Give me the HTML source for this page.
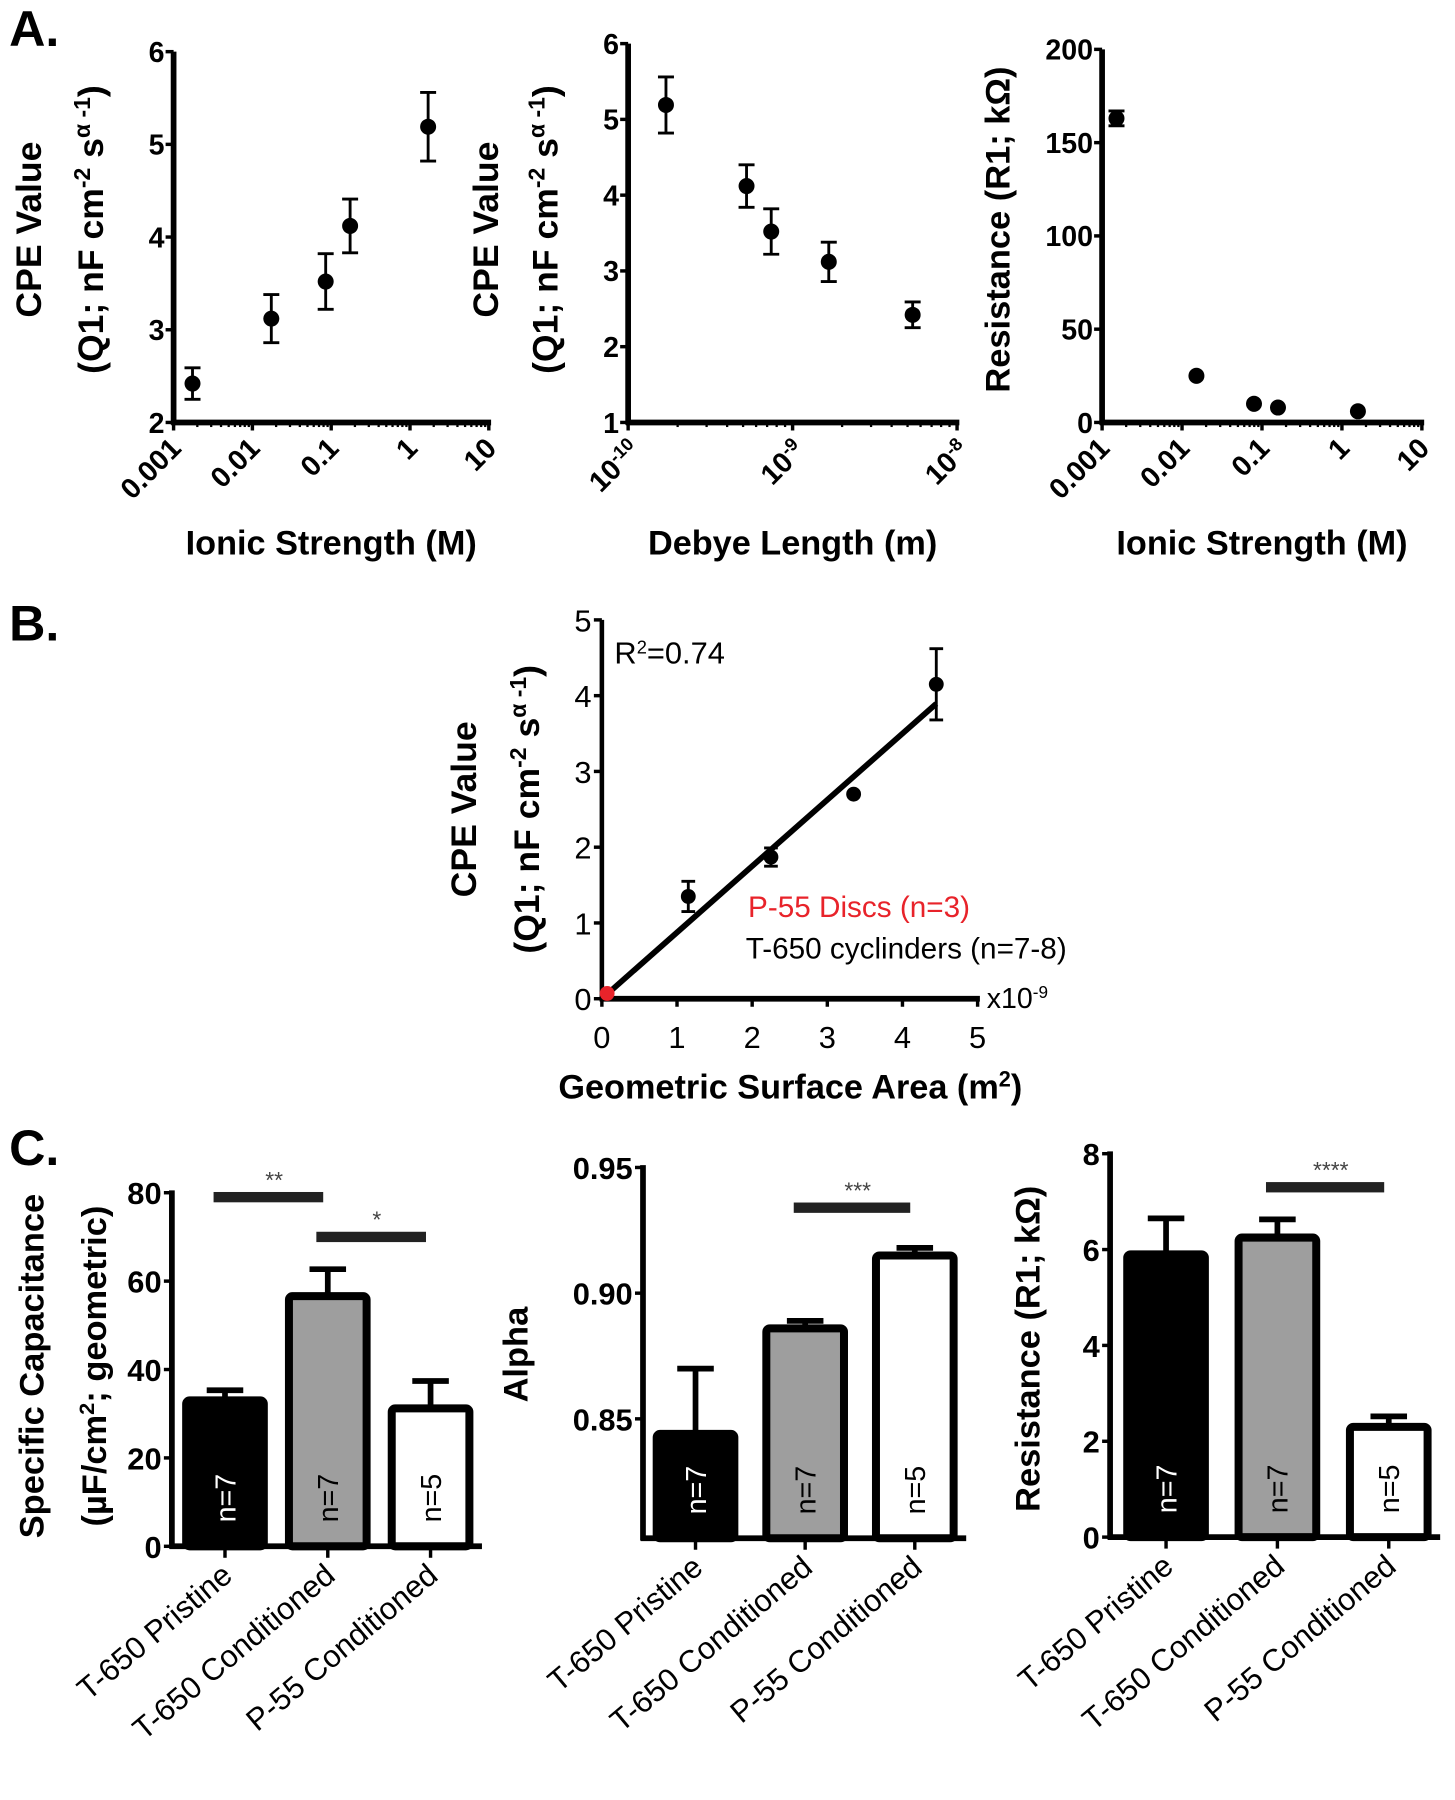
<!DOCTYPE html>
<html><head><meta charset="utf-8">
<style>
html,body{margin:0;padding:0;background:#fff;}
svg{display:block;}
text{font-family:"Liberation Sans",Arial,sans-serif;}
</style></head>
<body>
<svg id="fig" width="1455" height="1800" viewBox="0 0 1274 1568" preserveAspectRatio="none" xmlns="http://www.w3.org/2000/svg"></svg>
<script>
// ---------- DATA ----------
const a1LogX = [-2.76, -1.76, -1.07, -0.76, 0.23];
const a1Y = [2.42, 3.12, 3.52, 4.12, 5.19];
const a1Err = [0.17, 0.26, 0.30, 0.29, 0.37];
const a1TickLabels = ["0.001", "0.01", "0.1", "1", "10"];
const a1YTicks = [2, 3, 4, 5, 6];
const a2LogX = [-9.77, -9.28, -9.13, -8.78, -8.27];
const a2Y = [5.19, 4.12, 3.52, 3.12, 2.42];
const a2Err = [0.37, 0.28, 0.30, 0.26, 0.17];
const a2TickExp = ["-10", "-9", "-8"];
const a2YTicks = [1, 2, 3, 4, 5, 6];
const a3LogX = [-2.82, -1.82, -1.1, -0.8, 0.2];
const a3Y = [163, 25, 10, 8, 6];
const a3Err = [4, 0, 0, 0, 0];
const a3YTicks = [0, 50, 100, 150, 200];
const bX = [1.15, 2.25, 3.35, 4.45];
const bY = [1.35, 1.87, 2.7, 4.15];
const bErr = [0.2, 0.12, 0, 0.47];
const bRedX = [0.07];
const bRedY = [0.07];
const bFit = [0, 0.875];
const bTicks = [0, 1, 2, 3, 4, 5];
const cCats = ["T-650 Pristine", "T-650 Conditioned", "P-55 Conditioned"];
const cN = ["n=7", "n=7", "n=5"];
const c1Vals = [33, 56.6, 31.2];
const c1Errs = [2.3, 6.1, 6.2];
const c1YTicks = [0, 20, 40, 60, 80];
const c2Vals = [0.844, 0.886, 0.915];
const c2Errs = [0.026, 0.003, 0.003];
const c2YTicks = ["0.85", "0.90", "0.95"];
const c3Vals = [5.9, 6.25, 2.3];
const c3Errs = [0.75, 0.38, 0.22];
const c3YTicks = [0, 2, 4, 6, 8];
const cFills = ["#000", "#9e9e9e", "#fff"];

const NS = "http://www.w3.org/2000/svg";
const svg = document.getElementById("fig");
function mk(tag, attrs, parent) {
  const e = document.createElementNS(NS, tag);
  for (const k in attrs) e.setAttribute(k, attrs[k]);
  (parent || svg).appendChild(e);
  return e;
}
function txt(s, x, y, size, opts, parent) {
  opts = opts || {};
  const t = mk("text", {x: x, y: y, "font-size": size, "font-weight": opts.bold ? "bold" : "normal",
    "text-anchor": opts.anchor || "start", fill: opts.fill || "#000"}, parent);
  if (opts.rot !== undefined) t.setAttribute("transform", "rotate(" + opts.rot + " " + x + " " + y + ")");
  t.textContent = s;
  return t;
}
function line(x1, y1, x2, y2, w, parent) {
  return mk("line", {x1: x1, y1: y1, x2: x2, y2: y2, stroke: "#000", "stroke-width": w}, parent);
}

let t;
t = txt("A.", 8, 40, 44, {bold: true});


t = txt("B.", 8, 558, 44, {bold: true});


t = txt("C.", 8, 1015, 44, {bold: true});



function logScatter(cfg) {
  const g = mk("g", {});
  
  
  const xs = v => cfg.x0 + (v - cfg.lmin) * cfg.dec;
  const ys = v => cfg.yb - (v - cfg.ymin) / (cfg.ymax - cfg.ymin) * (cfg.yb - cfg.yt);
  const xEnd = xs(cfg.lmax);
  const ya = line(cfg.x0, cfg.yt, cfg.x0, cfg.yb + 2, 5, g);
  
  
  const xa = line(cfg.x0 - 2, cfg.yb, xEnd + 2, cfg.yb, 5, g);
  
  
  cfg.yTicks.forEach(v => {
    line(cfg.x0 - 7, ys(v), cfg.x0, ys(v), 3, g);
    const l = txt(String(v), cfg.x0 - 8, ys(v) + 9, 25, {bold: true, anchor: "end"}, g);
    
    
  });
  for (let d = cfg.lmin; d <= cfg.lmax; d++) {
    line(xs(d), cfg.yb, xs(d), cfg.yb + 7, 3, g);
    if (d < cfg.lmax) for (let k = 2; k < 10; k++) {
      const xx = xs(d + Math.log10(k));
      line(xx, cfg.yb, xx, cfg.yb + 4, 2, g);
    }
  }
  cfg.tickLabel(g, xs);
  cfg.lx.forEach((lx, i) => {
    const cx = xs(lx), cy = ys(cfg.yv[i]), e = cfg.err[i];
    if (e > 0) {
      const eb = mk("path", {d: "M" + cx + " " + ys(cfg.yv[i] + e) + "V" + ys(cfg.yv[i] - e) +
        "M" + (cx - 7) + " " + ys(cfg.yv[i] + e) + "h14M" + (cx - 7) + " " + ys(cfg.yv[i] - e) + "h14",
        stroke: "#000", "stroke-width": 2.5, fill: "none"}, g);
      
      
    }
    const p = mk("circle", {cx: cx, cy: cy, r: 7, fill: "#000"}, g);
    
    
  });
  const xt = txt(cfg.xTitle, (cfg.x0 + xEnd) / 2, 483, 30, {bold: true, anchor: "middle"}, g);
  
  
  cfg.yTitle(g);
}

function cpeTitle(g, x1, x2, yc) {
  const a = txt("CPE Value", x1, yc, 31, {bold: true, anchor: "middle", rot: -90}, g);
  
  
  const b = mk("text", {x: x2, y: yc, "font-size": 31, "font-weight": "bold", "text-anchor": "middle",
    transform: "rotate(-90 " + x2 + " " + yc + ")"}, g);
  
  
  b.innerHTML = '(Q1; nF cm<tspan baseline-shift="super" font-size="20">-2</tspan> s<tspan baseline-shift="super" font-size="20">α -1</tspan>)';
}

logScatter({name: "chart-cpe-vs-ionic-strength", x0: 152, lmin: -3, lmax: 1, dec: 69, yt: 45, yb: 368, ymin: 2, ymax: 6,
  yTicks: a1YTicks, lx: a1LogX, yv: a1Y, err: a1Err, xTitle: "Ionic Strength (M)",
  tickLabel: (g, xs) => a1TickLabels.forEach((s, i) => {
    const l = txt(s, xs(-3 + i) + 8, 392, 25, {bold: true, anchor: "end", rot: -45}, g);
    
    
  }),
  yTitle: g => cpeTitle(g, 36, 90, 200)});

logScatter({name: "chart-cpe-vs-debye-length", x0: 550, lmin: -10, lmax: -8, dec: 144, yt: 38, yb: 368, ymin: 1, ymax: 6,
  yTicks: a2YTicks, lx: a2LogX, yv: a2Y, err: a2Err, xTitle: "Debye Length (m)",
  tickLabel: (g, xs) => a2TickExp.forEach((s, i) => {
    const x = xs(-10 + i) + 12, y = 394;
    const l = mk("text", {x: x, y: y, "font-size": 25, "font-weight": "bold", "text-anchor": "end",
      transform: "rotate(-45 " + x + " " + y + ")"}, g);
    
    
    l.innerHTML = '10<tspan baseline-shift="super" font-size="16">' + s + '</tspan>';
  }),
  yTitle: g => cpeTitle(g, 436, 488, 200)});

logScatter({name: "chart-resistance-vs-ionic-strength", x0: 965, lmin: -3, lmax: 1, dec: 70, yt: 43, yb: 368, ymin: 0, ymax: 200,
  yTicks: a3YTicks, lx: a3LogX, yv: a3Y, err: a3Err, xTitle: "Ionic Strength (M)",
  tickLabel: (g, xs) => a1TickLabels.forEach((s, i) => {
    const l = txt(s, xs(-3 + i) + 8, 392, 25, {bold: true, anchor: "end", rot: -45}, g);
    
    
  }),
  yTitle: g => {
    const a = txt("Resistance (R1; kΩ)", 884, 200, 30, {bold: true, anchor: "middle", rot: -90}, g);
    
    
  }});

(function () {
  const g = mk("g", {});
  
  
  const x0 = 527, x5 = 856, yb = 870, yt = 540;
  const xs = v => x0 + v / 5 * (x5 - x0);
  const ys = v => yb - v / 5 * (yb - yt);
  const ya = line(x0, yt, x0, yb + 2, 4, g);
  
  
  const xa = line(x0 - 2, yb, x5 + 2, yb, 5, g);
  
  
  bTicks.forEach(v => {
    line(x0 - 7, ys(v), x0, ys(v), 3, g);
    const l = txt(String(v), x0 - 9, ys(v) + 10, 27, {anchor: "end"}, g);
    
    
    line(xs(v), yb, xs(v), yb + 7, 3, g);
    const m = txt(String(v), xs(v), 913, 27, {anchor: "middle"}, g);
    
    
  });
  const fit = line(xs(0), ys(bFit[0]), xs(bX[bX.length - 1]), ys(bFit[0] + bFit[1] * bX[bX.length - 1]), 5, g);
  
  
  bX.forEach((v, i) => {
    const cx = xs(v), cy = ys(bY[i]), e = bErr[i];
    if (e > 0) {
      const eb = mk("path", {d: "M" + cx + " " + ys(bY[i] + e) + "V" + ys(bY[i] - e) +
        "M" + (cx - 6) + " " + ys(bY[i] + e) + "h12M" + (cx - 6) + " " + ys(bY[i] - e) + "h12",
        stroke: "#000", "stroke-width": 2.5, fill: "none"}, g);
      
      
    }
    const p = mk("circle", {cx: cx, cy: cy, r: 6.5, fill: "#000"}, g);
    
    
  });
  bRedX.forEach((v, i) => {
    const p = mk("circle", {cx: xs(v), cy: ys(bRedY[i]), r: 6.5, fill: "#e8232a"}, g);
    
    
  });
  const r2 = mk("text", {x: 538, y: 578, "font-size": 27}, g);
  
  
  r2.innerHTML = 'R<tspan baseline-shift="super" font-size="16">2</tspan>=0.74';
  const l1 = txt("P-55 Discs (n=3)", 655, 799, 26, {fill: "#e8232a"}, g);
  
  
  const l2 = txt("T-650 cyclinders (n=7-8)", 653, 835, 26, {}, g);
  
  
  const sc = mk("text", {x: 864, y: 878, "font-size": 25}, g);
  
  
  sc.innerHTML = 'x10<tspan baseline-shift="super" font-size="15">-9</tspan>';
  const xt = mk("text", {x: 692, y: 957, "font-size": 30, "font-weight": "bold", "text-anchor": "middle"}, g);
  
  
  xt.innerHTML = 'Geometric Surface Area (m<tspan baseline-shift="super" font-size="19">2</tspan>)';
  cpeTitle(g, 417, 472, 705);
})();

function barChart(cfg) {
  const g = mk("g", {});
  
  
  const ys = v => cfg.yb - (v - cfg.ymin) / (cfg.ymax - cfg.ymin) * (cfg.yb - cfg.yt);
  const xc = i => cfg.xFirst + i * cfg.step;
  const bw = 68;
  cfg.vals.forEach((v, i) => {
    const x = xc(i), top = ys(v), cap = ys(v + cfg.errs[i]);
    const eb = mk("path", {d: "M" + x + " " + top + "V" + cap + "M" + (x - 16) + " " + cap + "h32",
      stroke: "#000", "stroke-width": 5, fill: "none"}, g);
    
    
    const r = mk("rect", {x: x - bw / 2, y: top, width: bw, height: cfg.yb - top, rx: 3,
      fill: cFills[i], stroke: "#000", "stroke-width": 7}, g);
    
    
    const nx = x + 9, ny = cfg.yb - 42;
    const n = txt(cN[i], nx, ny, 25, {anchor: "middle", rot: -90, fill: i === 0 ? "#fff" : "#000"}, g);
    
    
    line(x, cfg.yb, x, cfg.yb + 10, 3, g);
    const lx = x + 8, ly = cfg.yb + 28;
    const c = txt(cCats[i], lx, ly, 27, {anchor: "end", rot: -40}, g);
    
    
  });
  const ya = line(cfg.x0, cfg.yt - 2, cfg.x0, cfg.yb + 2, 5, g);
  
  
  const xa = line(cfg.x0 - 2, cfg.yb, xc(2) + 45, cfg.yb, 5, g);
  
  
  cfg.yTicks.forEach(s => {
    const v = parseFloat(s);
    line(cfg.x0 - 7, ys(v), cfg.x0, ys(v), 3, g);
    const l = txt(String(s), cfg.x0 - 9, ys(v) + 10, 27, {bold: true, anchor: "end"}, g);
    
    
  });
  cfg.sig.forEach(sg => {
    const y = ys(sg.v);
    const b = mk("rect", {x: xc(sg.a) - 10, y: y - 4.5, width: xc(sg.b) - xc(sg.a) + 6, height: 9, fill: "#222"}, g);
    
    
    const s = txt(sg.s, (xc(sg.a) + xc(sg.b)) / 2 - 2, y - 8, 20, {anchor: "middle", fill: "#444"}, g);
    
    
  });
  cfg.yTitle(g);
}

barChart({name: "chart-specific-capacitance", x0: 150.5, yt: 1039, yb: 1347, ymin: 0, ymax: 80,
  xFirst: 197, step: 90, vals: c1Vals, errs: c1Errs, yTicks: c1YTicks,
  sig: [{a: 0, b: 1, v: 79, s: "**"}, {a: 1, b: 2, v: 70, s: "*"}],
  yTitle: g => {
    const a = txt("Specific Capacitance", 38, 1190, 30, {bold: true, anchor: "middle", rot: -90}, g);
    
    
    const b = mk("text", {x: 93, y: 1190, "font-size": 30, "font-weight": "bold", "text-anchor": "middle",
      transform: "rotate(-90 93 1190)"}, g);
    
    
    b.innerHTML = '(µF/cm<tspan baseline-shift="super" font-size="19">2</tspan>; geometric)';
  }});

barChart({name: "chart-alpha", x0: 563, yt: 1017, yb: 1340, ymin: 0.8025, ymax: 0.95,
  xFirst: 609, step: 96, vals: c2Vals, errs: c2Errs, yTicks: c2YTicks,
  sig: [{a: 1, b: 2, v: 0.934, s: "***"}],
  yTitle: g => {
    const a = txt("Alpha", 462, 1180, 30, {bold: true, anchor: "middle", rot: -90}, g);
    
    
  }});

barChart({name: "chart-resistance", x0: 972, yt: 1005, yb: 1339, ymin: 0, ymax: 8,
  xFirst: 1021, step: 97.5, vals: c3Vals, errs: c3Errs, yTicks: c3YTicks,
  sig: [{a: 1, b: 2, v: 7.3, s: "****"}],
  yTitle: g => {
    const a = txt("Resistance (R1; kΩ)", 910, 1175, 30, {bold: true, anchor: "middle", rot: -90}, g);
    
    
  }});
</script>
</body></html>
